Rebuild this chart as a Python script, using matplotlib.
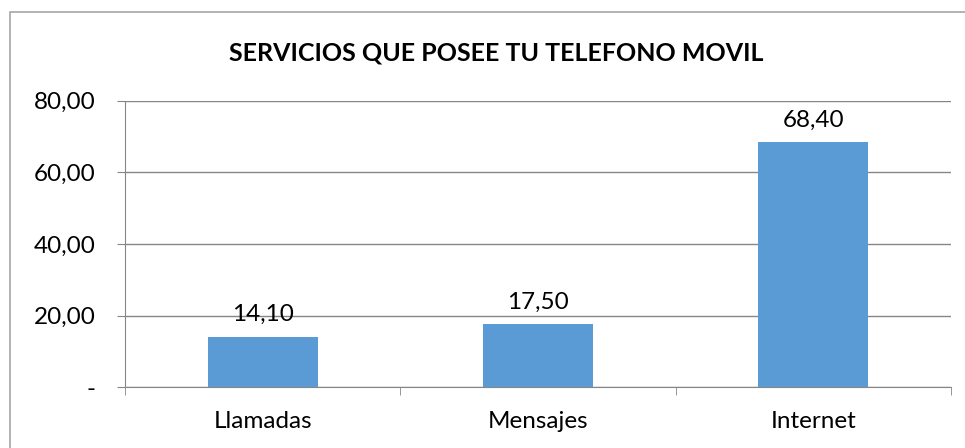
import matplotlib.pyplot as plt
from matplotlib.patches import Rectangle

categorias = ['Llamadas', 'Mensajes', 'Internet']
valores = [14.10, 17.50, 68.40]
ticks_y = [0, 20, 40, 60, 80]
etiquetas_y = ['-', '20,00', '40,00', '60,00', '80,00']

plt.rcParams['font.family'] = ['Lato', 'DejaVu Sans']
tam = 17.5

fig = plt.figure(figsize=(9.65, 4.48), dpi=100)
ax = fig.add_axes([0.1295, 0.136, 0.856, 0.639])

# chart border (only the left and top edges are inside the picture)
fig.patches.append(Rectangle((10 / 965, -0.1), 1.2, (448 - 12) / 448 + 0.1,
                             transform=fig.transFigure, fill=False,
                             edgecolor='#a6a6a6', linewidth=1.2))

x = list(range(len(categorias)))
ax.bar(x, valores, width=0.4, color='#5b9bd5', zorder=3)
for xi, v in zip(x, valores):
    ax.annotate(f'{v:.2f}'.replace('.', ','), (xi, v), xytext=(0, 16),
                textcoords='offset points', ha='center', va='center',
                fontsize=tam, color='#000000')

ax.set_xlim(-0.5, 2.5)
ax.set_ylim(0, 80)
ax.set_yticks(ticks_y)
ax.set_yticklabels(etiquetas_y, fontsize=tam)
ax.yaxis.grid(True, color='#868686', linewidth=1, zorder=0)

ax.set_xticks(x)
ax.set_xticklabels(categorias, fontsize=tam)
ax.set_xticks([-0.5, 0.5, 1.5, 2.5], minor=True)
ax.tick_params(axis='x', which='major', length=0, pad=17)
ax.tick_params(axis='x', which='minor', length=6, color='#868686')
ax.tick_params(axis='y', length=6, color='#868686', pad=15)

for s in ['top', 'right']:
    ax.spines[s].set_visible(False)
ax.spines['left'].set_color('#868686')
ax.spines['bottom'].set_color('#868686')

fig.text(496 / 965, (448 - 53) / 448, 'SERVICIOS QUE POSEE TU TELEFONO MOVIL',
         ha='center', va='center', fontsize=18, fontweight='bold')

fig.savefig('out.png', dpi=100)
